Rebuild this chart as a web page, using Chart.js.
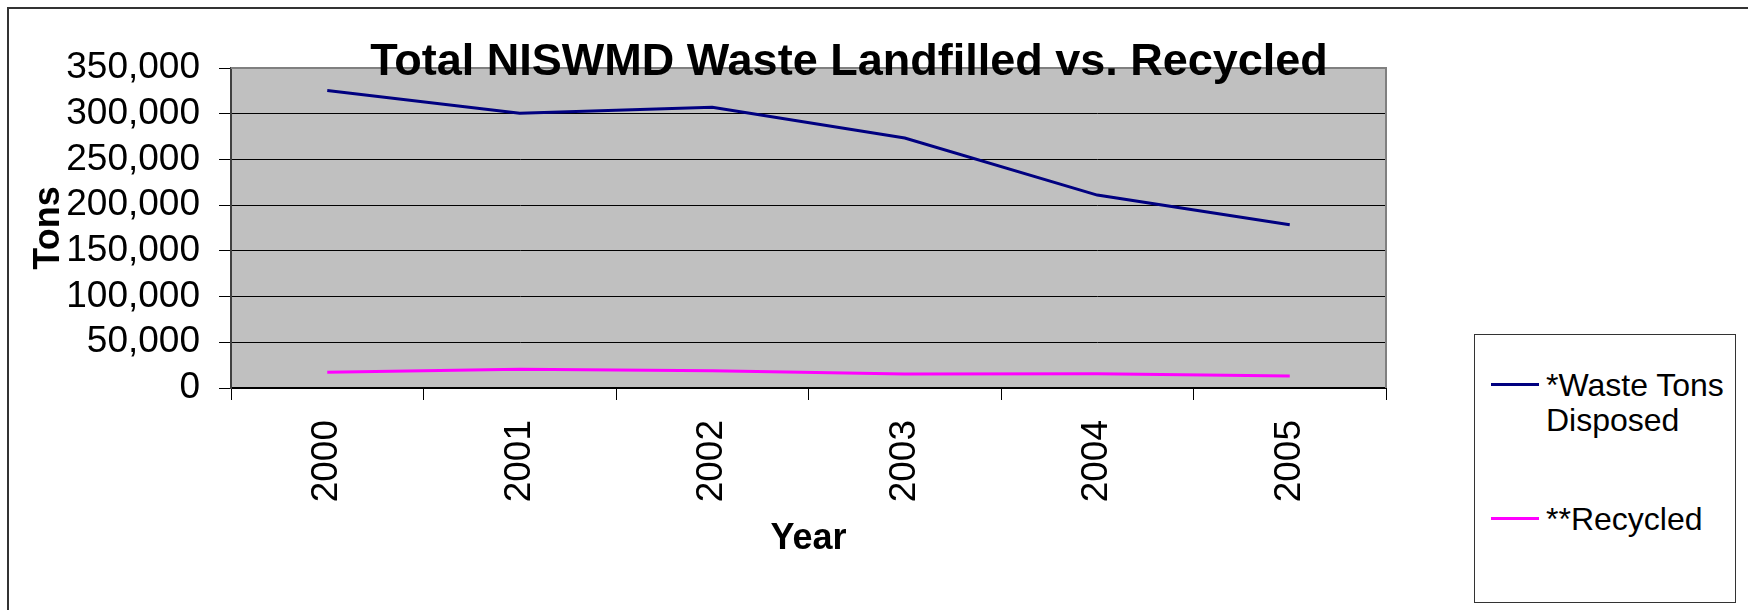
<!DOCTYPE html>
<html>
<head>
<meta charset="utf-8">
<title>Total NISWMD Waste Landfilled vs. Recycled</title>
<script src="https://cdn.jsdelivr.net/npm/chart.js@4/dist/chart.umd.min.js"></script>
<style>
    body { margin: 0; background: #fff; }
    .quadro { position: relative; width: 1748px; height: 610px; overflow: hidden; }
    #grafico { position: absolute; left: 0; top: 0; }
    .legenda {
        position: absolute; left: 1474px; top: 334px; width: 262px; height: 269px;
        box-sizing: border-box; border: 1px solid #333; background: #fff;
        font-family: "Liberation Sans", Arial, sans-serif; font-size: 32px; line-height: 34.5px; color: #000;
    }
    .legenda .item { position: absolute; left: 0; width: 100%; }
    .legenda .traco { position: absolute; left: 16px; top: 15px; width: 48px; height: 3px; }
    .legenda .texto { position: absolute; left: 71px; width: 188px; }
</style>
</head>
<body>
<div class="quadro">
    <canvas id="grafico" width="1748" height="610"></canvas>
    <div class="legenda" id="legenda"></div>
</div>
<script>
/* =========================
   DADOS
========================= */

const years = ['2000', '2001', '2002', '2003', '2004', '2005'];
const wasteDisposed = [325500, 300500, 307000, 273500, 211000, 178500];
const recycled = [17200, 20400, 18900, 15300, 15600, 13100];

const seriesLabels = ['*Waste Tons Disposed', '**Recycled'];
const seriesColors = ['#000080', '#FF00FF'];

const yMin = 0;
const yMax = 350000;
const yStep = 50000;

const chartTitle = 'Total NISWMD Waste Landfilled vs. Recycled';
const xTitle = 'Year';
const yTitle = 'Tons';

const fonte = '"Liberation Sans", Arial, sans-serif';

/* =========================
   PLUGINS (fundo, bordas, titulo)
========================= */

const fundoPlot = {
    id: 'fundoPlot',
    beforeDraw(chart) {
        const { ctx, chartArea: a } = chart;
        ctx.save();
        ctx.fillStyle = '#C0C0C0';
        ctx.fillRect(a.left, a.top, a.right - a.left, a.bottom - a.top);
        // moldura externa
        ctx.strokeStyle = '#333';
        ctx.lineWidth = 2;
        ctx.strokeRect(8, 8, 1800, 700);
        ctx.restore();
    },
    beforeDatasetsDraw(chart) {
        const { ctx, chartArea: a } = chart;
        ctx.save();
        ctx.strokeStyle = '#808080';
        ctx.lineWidth = 2;
        ctx.beginPath();
        ctx.moveTo(a.left, a.top);
        ctx.lineTo(a.right, a.top);
        ctx.lineTo(a.right, a.bottom);
        ctx.stroke();
        ctx.restore();
    },
    afterDraw(chart) {
        const { ctx } = chart;
        ctx.save();
        ctx.font = 'bold 45px ' + fonte;
        ctx.fillStyle = '#000';
        ctx.textAlign = 'center';
        ctx.textBaseline = 'alphabetic';
        ctx.fillText(chartTitle, 849, 75);
        ctx.restore();
    }
};

/* =========================
   GRAFICO
========================= */

const ctx = document.getElementById('grafico');

const chart = new Chart(ctx, {
    type: 'line',
    data: {
        labels: years,
        datasets: [{
            label: seriesLabels[0],
            data: wasteDisposed,
            borderColor: seriesColors[0],
            backgroundColor: seriesColors[0],
            borderWidth: 3,
            pointRadius: 0,
            tension: 0
        }, {
            label: seriesLabels[1],
            data: recycled,
            borderColor: seriesColors[1],
            backgroundColor: seriesColors[1],
            borderWidth: 3,
            pointRadius: 0,
            tension: 0
        }]
    },
    options: {
        responsive: false,
        animation: false,
        layout: { padding: { top: 68, right: 362, bottom: 0, left: 0 } },
        plugins: {
            legend: { display: false },
            title: { display: false },
            tooltip: { enabled: false }
        },
        scales: {
            x: {
                offset: true,
                afterFit(scale) { scale.height = 222; },
                grid: {
                    offset: true,
                    drawOnChartArea: false,
                    drawTicks: true,
                    tickLength: 12,
                    color: '#000',
                    tickColor: '#000'
                },
                border: { color: '#000', width: 2 },
                ticks: {
                    autoSkip: false,
                    minRotation: 90,
                    maxRotation: 90,
                    padding: 20,
                    color: '#000',
                    font: { family: fonte, size: 37 }
                },
                title: {
                    display: true,
                    text: xTitle,
                    color: '#000',
                    font: { family: fonte, size: 36, weight: 'bold', lineHeight: 1 },
                    padding: { top: 0, bottom: 53 }
                }
            },
            y: {
                min: yMin,
                max: yMax,
                afterFit(scale) { scale.width = 231; },
                grid: {
                    color: '#000',
                    tickColor: '#000',
                    lineWidth: 1,
                    drawTicks: true,
                    tickLength: 12
                },
                border: { color: '#404040', width: 2 },
                ticks: {
                    stepSize: yStep,
                    autoSkip: false,
                    padding: 19,
                    color: '#000',
                    font: { family: fonte, size: 37 },
                    callback: v => v.toLocaleString('en-US')
                },
                title: {
                    display: true,
                    text: yTitle,
                    color: '#000',
                    font: { family: fonte, size: 36, weight: 'bold', lineHeight: 1 },
                    padding: { top: 31, bottom: 0 }
                }
            }
        }
    },
    plugins: [fundoPlot]
});

/* =========================
   LEGENDA (HTML, a partir dos datasets)
========================= */

const legenda = document.getElementById('legenda');

chart.data.datasets.forEach((ds, i) => {
    const item = document.createElement('div');
    item.className = 'item';
    item.style.top = (33 + i * 134) + 'px';

    const traco = document.createElement('div');
    traco.className = 'traco';
    traco.style.background = ds.borderColor;

    const texto = document.createElement('div');
    texto.className = 'texto';
    texto.textContent = ds.label;

    item.appendChild(traco);
    item.appendChild(texto);
    legenda.appendChild(item);
});
</script>
</body>
</html>
